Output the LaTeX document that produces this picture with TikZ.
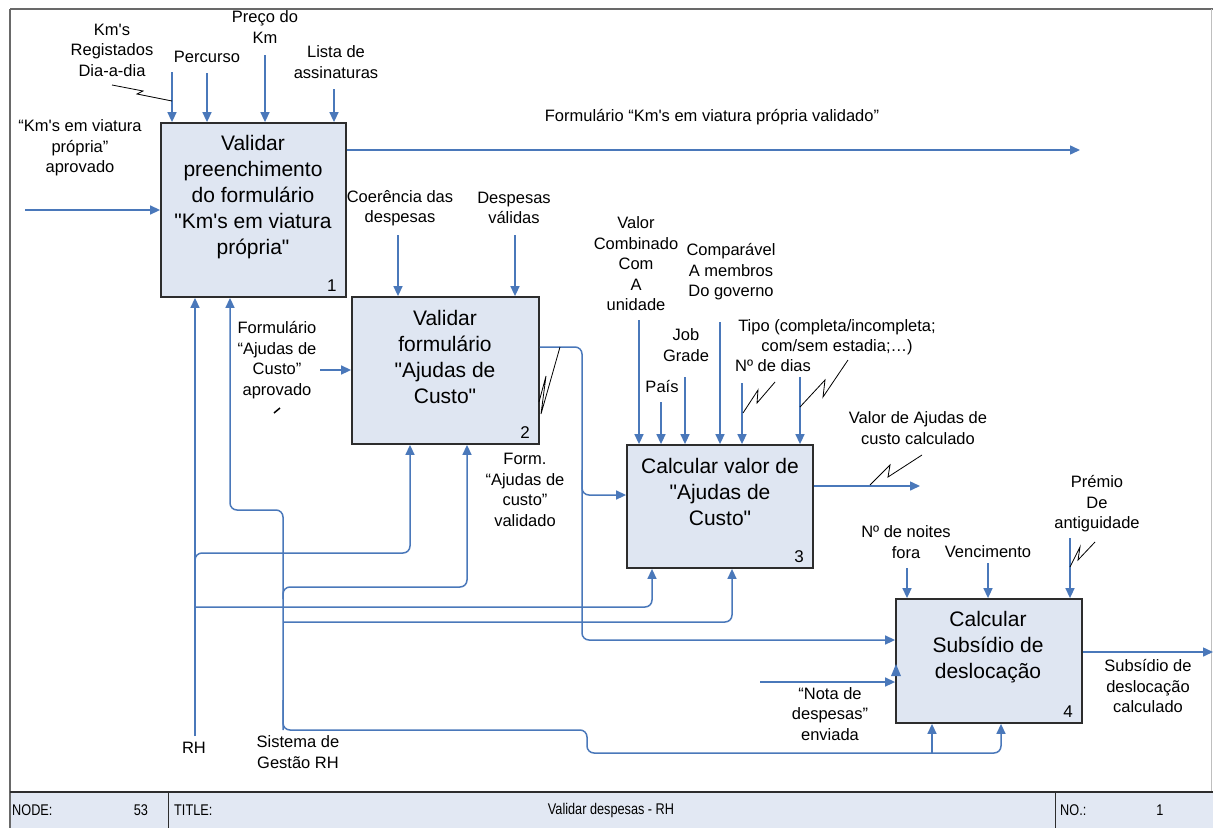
\documentclass[tikz,border=0pt]{standalone}
\usepackage{fontspec}
\setmainfont{Liberation Sans}[Ligatures=TeXOff]
\usepackage{graphicx}
\usetikzlibrary{arrows.meta}

\definecolor{flowblue}{RGB}{74,120,186}
\definecolor{boxfill}{RGB}{223,230,242}
\definecolor{boxedge}{RGB}{45,45,45}
\definecolor{barfill}{RGB}{226,232,243}
\definecolor{framegray}{RGB}{105,105,105}

\newcommand{\narrowtxt}[1]{\scalebox{0.82}[1]{#1}}

\begin{document}
\begin{tikzpicture}[x=1pt,y=-1pt,
  procbox/.style={draw=boxedge, line width=1.8pt, fill=boxfill, inner sep=0pt},
  boxtext/.style={align=center, font=\fontsize{21}{26}\selectfont, inner sep=0pt},
  boxnum/.style={font=\fontsize{17}{20}\selectfont, inner sep=0pt, anchor=south east},
  lbl/.style={align=center, font=\fontsize{16.5}{20.5}\selectfont, inner sep=0pt},
  flow/.style={draw=flowblue, line width=1.5pt, rounded corners=7pt,
               -{Triangle[length=10pt,width=9pt]}},
  squig/.style={draw=black, line width=0.8pt},
  bartext/.style={font=\fontsize{15.5}{17}\selectfont, inner sep=0pt}
]
\useasboundingbox (0,0) rectangle (1213,828);

% ---- sheet frame and title bar ----
\fill[white] (0,0) rectangle (1213,828);
\fill[barfill] (10,792) rectangle (1213,828);
\draw[framegray, line width=2.5pt] (10,9) -- (1213,9);
\draw[framegray, line width=1.5pt] (10,9) -- (10,828);
\draw[gray!50, line width=1pt] (1211.5,9) -- (1211.5,792);
\draw[boxedge, line width=2pt] (10,792) -- (1213,792);
\draw[boxedge, line width=1pt] (168,792) -- (168,828);
\draw[boxedge, line width=1pt] (1055,792) -- (1055,828);

\node[bartext, anchor=west] (nodekey) at (12,810) {\narrowtxt{NODE:}};
\node[bartext] (nodeval) at (141,810) {\narrowtxt{53}};
\node[bartext, anchor=west] (titlekey) at (174,810) {\narrowtxt{TITLE:}};
\node[bartext] (titleval) at (611,810) {\narrowtxt{Validar despesas - RH}};
\node[bartext, anchor=west] (nokey) at (1060,810) {\narrowtxt{NO.:}};
\node[bartext] (noval) at (1160,810) {\narrowtxt{1}};

% ---- activity boxes ----
\node[procbox, minimum width=185pt, minimum height=174pt] (b1) at (253.5,210) {};
\node[procbox, minimum width=187pt, minimum height=147pt] (b2) at (445.5,370.5) {};
\node[procbox, minimum width=186pt, minimum height=123pt] (b3) at (720,506.5) {};
\node[procbox, minimum width=186pt, minimum height=124pt] (b4) at (989,661) {};

\node[boxtext] (b1t) at (253,197) {Validar\\preenchimento\\do formulário\\"Km's em viatura\\própria"};
\node[boxtext] (b2t) at (445,357) {Validar\\formulário\\"Ajudas de\\Custo"};
\node[boxtext] (b3t) at (720,492) {Calcular valor de\\"Ajudas de\\Custo"};
\node[boxtext] (b4t) at (988,647) {Calcular\\Subsídio de\\deslocação};

\node[boxnum] (b1n) at ([xshift=-10pt,yshift=6pt]b1.south east) {1};
\node[boxnum] (b2n) at ([xshift=-10pt,yshift=6pt]b2.south east) {2};
\node[boxnum] (b3n) at ([xshift=-10pt,yshift=6pt]b3.south east) {3};
\node[boxnum] (b4n) at ([xshift=-10pt,yshift=6pt]b4.south east) {4};

% ---- labels ----
\node[lbl] (lkms) at (112,50) {Km's\\Registados\\Dia-a-dia};
\node[lbl] (lperc) at (207,57) {Percurso};
\node[lbl] (lpreco) at (265,27) {Preço do\\Km};
\node[lbl] (llista) at (336,62) {Lista de\\assinaturas};
\node[lbl] (lkmsap) at (80,148) {“Km's em viatura\\própria”\\aprovado};
\node[lbl] (lout1) at (712,117) {Formulário “Km's em viatura própria validado”};
\node[lbl] (lcoer) at (400,208) {Coerência das\\despesas};
\node[lbl] (ldesp) at (514,208) {Despesas\\válidas};
\node[lbl] (lformaj) at (277,360) {Formulário\\“Ajudas de\\Custo”\\aprovado};
\node[lbl] (lformval) at (525,490) {Form.\\“Ajudas de\\custo”\\validado};
\node[lbl] (lvalor) at (636,264) {Valor\\Combinado\\Com\\A\\unidade};
\node[lbl] (lcomp) at (731,272) {Comparável\\A membros\\Do governo};
\node[lbl] (ljob) at (686,345) {Job\\Grade};
\node[lbl] (lpais) at (662,386) {País};
\node[lbl] (ltipo) at (837,337) {Tipo (completa/incompleta;\\com/sem estadia;…)};
\node[lbl] (ldias) at (773,366) {Nº de dias};
\node[lbl] (lvalcalc) at (918,428) {Valor de Ajudas de\\custo calculado};
\node[lbl] (lnoites) at (906,542) {Nº de noites\\fora};
\node[lbl] (lvenc) at (988,552) {Vencimento};
\node[lbl] (lpremio) at (1097,504) {Prémio\\De\\antiguidade};
\node[lbl] (lsubs) at (1148,686) {Subsídio de\\deslocação\\calculado};
\node[lbl] (lnota) at (830,714) {“Nota de\\despesas”\\enviada};
\node[lbl] (lrh) at (194,748) {RH};
\node[lbl] (lsgrh) at (298,752) {Sistema de\\Gestão RH};

% ---- free ends of the connectors ----
\coordinate (c1a) at (172,72);
\coordinate (c1b) at (207,73);
\coordinate (c1c) at (265,55);
\coordinate (c1d) at (334,89);
\coordinate (i1)  at (25,210);
\coordinate (o1)  at (1080,150);
\coordinate (c2a) at (398,235);
\coordinate (c2b) at (515,235);
\coordinate (i2)  at (320,370);
\coordinate (j2)  at (582,347);
\coordinate (j2b) at (582,470);
\coordinate (i3)  at (600,495);
\coordinate (i4a) at (700,640);
\coordinate (c3a) at (639,320);
\coordinate (c3b) at (661,402);
\coordinate (c3c) at (685,377);
\coordinate (c3d) at (720,322);
\coordinate (c3e) at (742,383);
\coordinate (c3f) at (800,377);
\coordinate (o3)  at (920,486);
\coordinate (c4a) at (907,568);
\coordinate (c4b) at (988,563);
\coordinate (c4c) at (1070,538);
\coordinate (i4b) at (760,682);
\coordinate (o4)  at (1213,652);
% mechanisms
\coordinate (rh)   at (195,736);
\coordinate (rhA)  at (195,553);
\coordinate (rhB)  at (195,607);
\coordinate (m2a)  at (410,500);
\coordinate (m3a)  at (652,590);
\coordinate (sgT)  at (230,510);
\coordinate (sgJ)  at (283,510);
\coordinate (sgL)  at (283,730);
\coordinate (sgA)  at (283,587);
\coordinate (sgB)  at (283,622);
\coordinate (sgS1) at (587,730);
\coordinate (sgS2) at (587,753);
\coordinate (m2b)  at (467,520);
\coordinate (m3b)  at (732,600);
\coordinate (m4a)  at (932,753);
\coordinate (m4b)  at (1001,753);

% ---- controls ----
\foreach \c in {c1a,c1b,c1c,c1d} \draw[flow] (\c) -- (\c |- b1.north);
\foreach \c in {c2a,c2b} \draw[flow] (\c) -- (\c |- b2.north);
\foreach \c in {c3a,c3b,c3c,c3d,c3e,c3f} \draw[flow] (\c) -- (\c |- b3.north);
\foreach \c in {c4a,c4b,c4c} \draw[flow] (\c) -- (\c |- b4.north);

% ---- inputs and outputs ----
\draw[flow] (i1) -- (i1 -| b1.west);
\draw[flow] (b1.east |- o1) -- (o1);
\draw[flow] (i2) -- (i2 -| b2.west);
\draw[flow] (b2.east |- j2) -- (j2) |- (i3 -| b3.west);
\draw[flow] (j2b) |- (i4a -| b4.west);
\draw[flow] (b3.east |- o3) -- (o3);
\draw[flow] (i4b) -- (i4b -| b4.west);
\draw[flow] (b4.east |- o4) -- (o4);
\fill[flowblue] (891,676) -- (896,664) -- (901,676) -- cycle;

% ---- mechanisms: RH ----
\draw[flow] (rh) -- (rh |- b1.south);
\draw[flow] ([yshift=-12pt]rhA) -- (rhA) -| (m2a |- b2.south);
\draw[flow] (rhB) -| (m3a |- b3.south);

% ---- mechanisms: Sistema de Gestão RH ----
\draw[flow] (sgL) -- (sgJ) -- (sgT) -- (sgT |- b1.south);
\draw[flow] ([yshift=-12pt]sgA) -- (sgA) -| (m2b |- b2.south);
\draw[flow] (sgB) -| (m3b |- b3.south);
\draw[flow] ([yshift=30pt]sgL) -- (sgL) -- (sgS1) -- (sgS2) -- (m4b) -- (m4b |- b4.south);
\draw[flow] (m4a) -- (m4a |- b4.south);

% ---- squiggles tying labels to their arrows ----
\draw[squig] (112,85) -- (143,91) -- (137,94) -- (172,101);
\draw[squig] (560,347) -- (541,414) -- (546,376) -- (539,402);
\draw[squig, line width=1.5pt] (274,413) -- (280,408);
\draw[squig] (743,413) -- (758,390) -- (757,403) -- (775,382);
\draw[squig] (800,407) -- (825,380) -- (823,397) -- (848,360);
\draw[squig] (870,485) -- (890,465) -- (888,477) -- (922,455);
\draw[squig] (1070,567) -- (1080,547) -- (1078,560) -- (1095,542);
\end{tikzpicture}
\end{document}
